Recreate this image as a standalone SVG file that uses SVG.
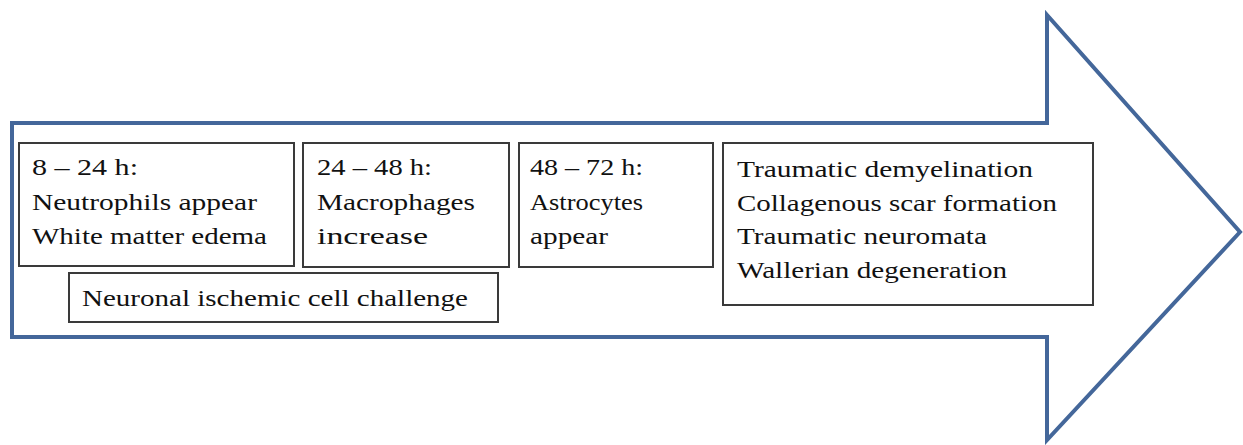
<svg xmlns="http://www.w3.org/2000/svg" width="1243" height="445" viewBox="0 0 1243 445">
<style>
.box{fill:#fff;stroke:#3a3a3a;stroke-width:2}
.t{font-family:'Liberation Serif','Times New Roman',serif;font-size:24px;fill:#111}
</style>
<rect width="1243" height="445" fill="#fff"/>
<g id="arrow">
<path d="M12 123 L1047 123 L1047 15 L1240 232 L1047 440 L1047 337 L12 337 Z" fill="#fff" stroke="#44679a" stroke-width="4" stroke-linejoin="miter"/>
</g>
<g id="connectors"></g>
<g id="box1">
<rect class="box" x="19" y="143" width="275" height="123"/>
<text class="t" x="32" y="175" textLength="106" lengthAdjust="spacingAndGlyphs">8 – 24 h:</text>
<text class="t" x="32" y="210" textLength="225" lengthAdjust="spacingAndGlyphs">Neutrophils appear</text>
<text class="t" x="32" y="244" textLength="235" lengthAdjust="spacingAndGlyphs">White matter edema</text>
</g>
<g id="box2">
<rect class="box" x="303" y="143" width="206" height="124"/>
<text class="t" x="317" y="175" textLength="115" lengthAdjust="spacingAndGlyphs">24 – 48 h:</text>
<text class="t" x="317" y="210" textLength="158" lengthAdjust="spacingAndGlyphs">Macrophages</text>
<text class="t" x="317" y="244" textLength="111" lengthAdjust="spacingAndGlyphs">increase</text>
</g>
<g id="box3">
<rect class="box" x="519" y="143" width="194" height="124"/>
<text class="t" x="530" y="175" textLength="113" lengthAdjust="spacingAndGlyphs">48 – 72 h:</text>
<text class="t" x="530" y="210" textLength="113" lengthAdjust="spacingAndGlyphs">Astrocytes</text>
<text class="t" x="530" y="244" textLength="78" lengthAdjust="spacingAndGlyphs">appear</text>
</g>
<g id="box4">
<rect class="box" x="723" y="143" width="370" height="162"/>
<text class="t" x="737" y="177" textLength="296" lengthAdjust="spacingAndGlyphs">Traumatic demyelination</text>
<text class="t" x="737" y="211" textLength="320" lengthAdjust="spacingAndGlyphs">Collagenous scar formation</text>
<text class="t" x="737" y="244" textLength="250" lengthAdjust="spacingAndGlyphs">Traumatic neuromata</text>
<text class="t" x="737" y="278" textLength="270" lengthAdjust="spacingAndGlyphs">Wallerian degeneration</text>
</g>
<g id="box5">
<rect class="box" x="69" y="273" width="429" height="49"/>
<text class="t" x="82" y="306" textLength="386" lengthAdjust="spacingAndGlyphs">Neuronal ischemic cell challenge</text>
</g>
</svg>
